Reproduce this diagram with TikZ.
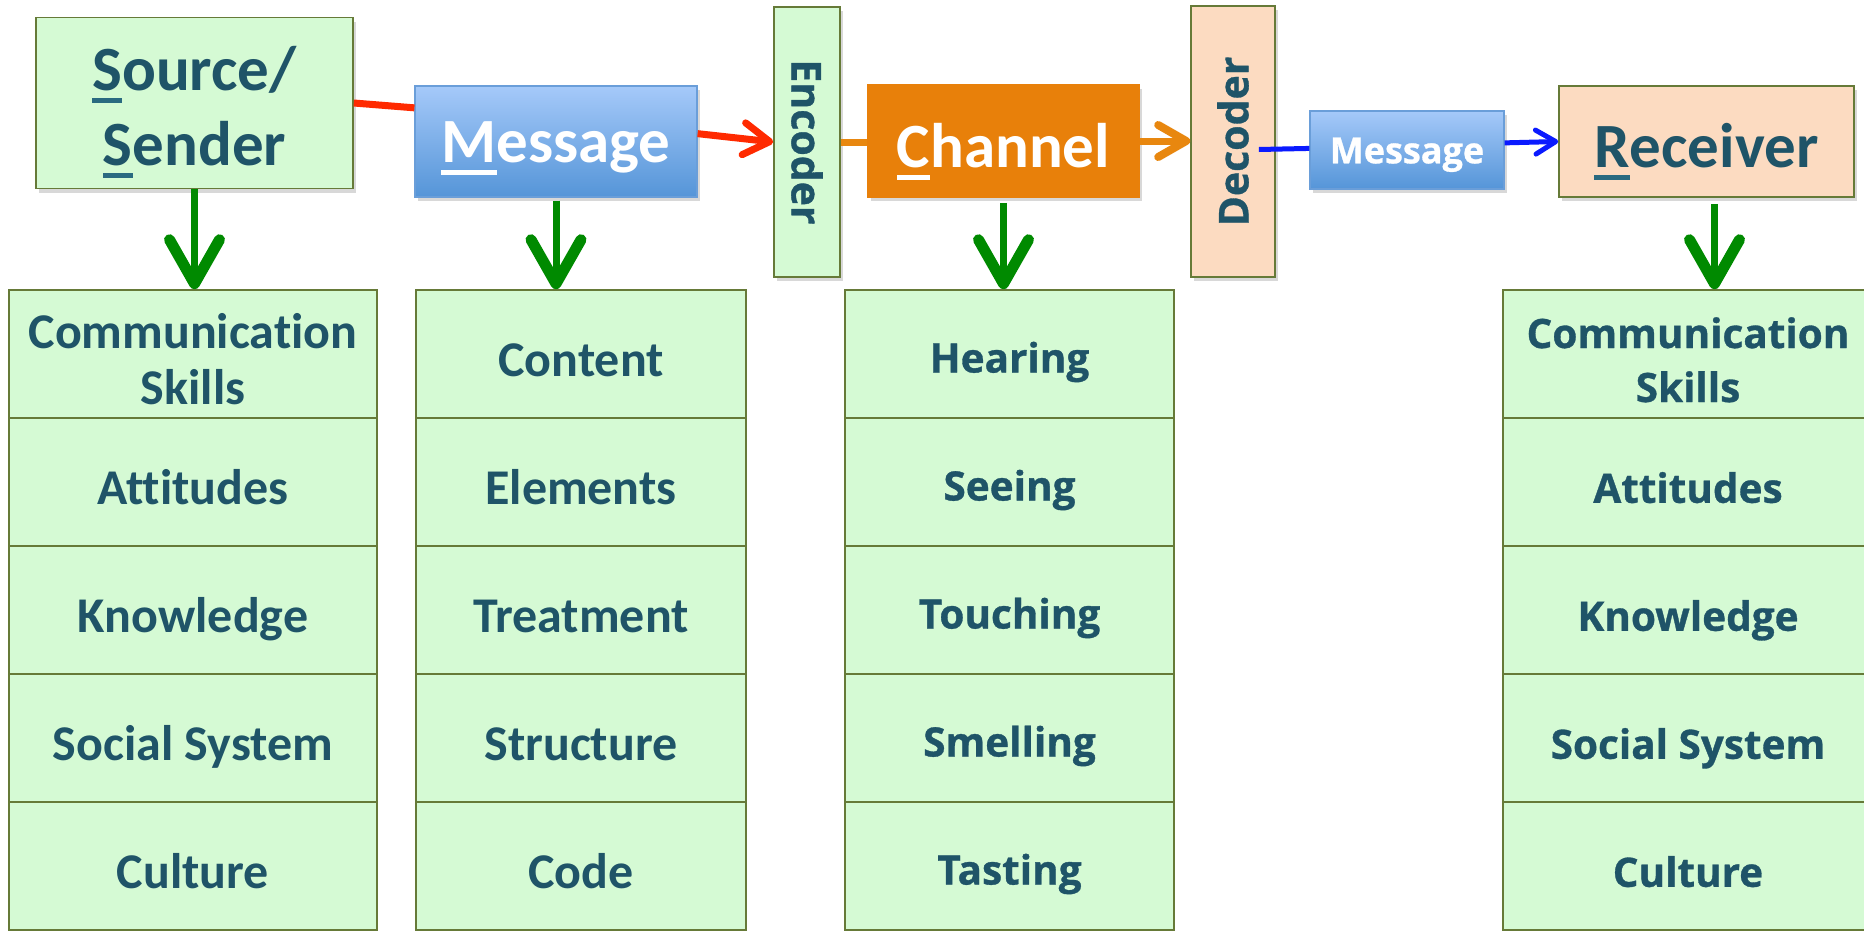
\documentclass[tikz,border=0pt]{standalone}
\usepackage{fontspec}
\usetikzlibrary{arrows.meta,calc,shadows}
\newfontfamily\calfont{Carlito}[Ligatures={NoCommon}]
\newfontfamily\osfont{Open Sans}[BoldFeatures={FakeBold=0.8}]
\definecolor{gfill}{HTML}{D5FAD4}
\definecolor{gdraw}{HTML}{667A38}
\definecolor{tcol}{HTML}{1F5468}
\definecolor{ucol}{HTML}{2A6A80}
\definecolor{pfill}{HTML}{FCDBC1}
\definecolor{ofill}{HTML}{E8800A}
\definecolor{btop}{HTML}{A5C9F9}
\definecolor{bbot}{HTML}{5595D8}
\definecolor{bdraw}{HTML}{6A9ED9}
\definecolor{redc}{HTML}{FF2A00}
\definecolor{orac}{HTML}{E8870F}
\definecolor{bluc}{HTML}{0A1AFF}
\definecolor{grnc}{HTML}{008A00}
\newsavebox\ulbox
\newcommand\ulet[2]{\sbox\ulbox{#2}\rlap{\color{#1}\rule[-0.2em]{\wd\ulbox}{0.08em}}\usebox\ulbox}
\tikzset{
  shad/.style={drop shadow={shadow xshift=3pt,shadow yshift=-4pt,opacity=0.25,fill=black!60}},
  bigbox/.style={line width=1.6pt, align=center, inner sep=0pt, shad},
  gbox/.style={bigbox, draw=gdraw, fill=gfill, text=tcol},
  pbox/.style={bigbox, draw=gdraw, fill=pfill, text=tcol},
  bbox/.style={bigbox, draw=bdraw, line width=1.2pt, top color=btop, bottom color=bbot, text=white},
  obox/.style={bigbox, draw=ofill, fill=ofill, text=white},
  bigfont/.style={font=\calfont\bfseries\fontsize{63}{75}\selectfont},
  rowbox/.style={draw=gdraw, line width=1.6pt, fill=gfill, text=tcol, align=center, inner sep=0pt},
  calrow/.style={font=\calfont\bfseries\fontsize{50}{56}\selectfont, text height=55pt, text depth=10.5pt},
  osrowc/.style={font=\osfont\bfseries\fontsize{40.5}{54}\selectfont, text height=48pt, text depth=11pt},
  osrowd/.style={font=\osfont\bfseries\fontsize{40.5}{54}\selectfont, text height=52pt, text depth=10.4pt},
  garrow/.style={draw=grnc, line width=7pt, -{Straight Barb[length=44pt,width=50pt,line width=11pt,round]}},
  rline/.style={draw=redc, line width=7pt},
  rarrow/.style={rline, -{Straight Barb[length=26pt,width=32pt,line width=7pt,round]}},
  oline/.style={draw=orac, line width=7pt},
  oarrow/.style={oline, -{Straight Barb[length=28pt,width=32pt,line width=8pt,round]}},
  bline/.style={draw=bluc, line width=5pt},
  barrow/.style={bline, -{Straight Barb[length=20pt,width=24pt,line width=5pt,round]}}
}
\begin{document}
\begin{tikzpicture}[x=1pt,y=-1pt]
\useasboundingbox (0,0) rectangle (1864,930);
\fill[white] (0,0) rectangle (1864,930);
% columns
\node[rowbox, calrow, text height=100pt, text depth=0pt, minimum width=368pt, minimum height=128pt] (a1) at (193,354) {Communication\\Skills};
\foreach \t [count=\i from 2] in {Attitudes,Knowledge,{Social System},Culture}
  \node[rowbox, calrow, minimum width=368pt, minimum height=128pt] (a\i) at (193,{290+128*(\i-1)+64}) {\t};
\foreach \t [count=\i] in {Content,Elements,Treatment,Structure,Code}
  \node[rowbox, calrow, minimum width=330pt, minimum height=128pt] (b\i) at (581,{290+128*(\i-1)+64}) {\t};
\foreach \t [count=\i] in {Hearing,Seeing,Touching,Smelling,Tasting}
  \node[rowbox, osrowc, minimum width=329pt, minimum height=128pt] (c\i) at (1009.5,{290+128*(\i-1)+64}) {\t};
\node[rowbox, osrowd, text height=96pt, text depth=0pt, minimum width=370pt, minimum height=128pt] (d1) at (1688,354) {Communication\\Skills};
\foreach \t [count=\i from 2] in {Attitudes,Knowledge,{Social System},Culture}
  \node[rowbox, osrowd, minimum width=370pt, minimum height=128pt] (d\i) at (1688,{290+128*(\i-1)+64}) {\t};
% top boxes
\node[gbox, bigfont, text height=124pt, text depth=0pt, minimum width=317pt, minimum height=171pt] (src) at (194.5,103) {\ulet{ucol}{S}ource/\\\ulet{ucol}{S}ender};
\node[bbox, bigfont, text height=57pt, text depth=15pt, minimum width=282pt, minimum height=111pt] (msg) at (556,141.5) {\ulet{white}{M}essage};
\node[gbox, font=\osfont\bfseries\fontsize{41}{48}\selectfont, rotate=-90, minimum width=270pt, minimum height=66pt] (enc) at (807,142) {Encoder};
\node[obox, bigfont, text height=62pt, text depth=10pt, minimum width=271pt, minimum height=112pt] (ch) at (1003.5,141) {\ulet{white}{C}hannel};
\node[pbox, font=\osfont\bfseries\fontsize{41}{48}\selectfont, rotate=90, minimum width=271pt, minimum height=84pt] (dec) at (1233,141.5) {Decoder};
\node[bbox, font=\osfont\bfseries\fontsize{36}{42}\selectfont, text height=36pt, text depth=9.4pt, minimum width=194pt, minimum height=78pt] (sm) at (1407,150) {Message};
\node[pbox, bigfont, text height=61pt, text depth=10pt, minimum width=295pt, minimum height=111pt] (rec) at (1706.5,141.5) {\ulet{ucol}{R}eceiver};
% connectors
\draw[rline] (src.east) -- ($(msg.north west)!0.2!(msg.south west)$);
\draw[rarrow] ($(msg.north east)!0.43!(msg.south east)$) -- (enc.south);
\draw[oline] (enc.north) -- (enc.north -| ch.west);
\draw[oarrow] (ch.east) -- (ch.east -| dec.north);
\draw[bline] ([xshift=-17pt,yshift=-8pt]dec.south) -- ($(sm.north west)!0.48!(sm.south west)$);
\draw[barrow] ($(sm.north east)!0.41!(sm.south east)$) -- (rec.west);
\draw[garrow] (src.south) -- (src.south |- a1.north);
\draw[garrow, shorten <=3pt] (msg.south) -- (msg.south |- b1.north);
\draw[garrow, shorten <=5pt] (ch.south) -- (ch.south |- c1.north);
\draw[garrow, shorten <=6pt] ([xshift=8pt]rec.south) -- ([xshift=8pt]rec.south |- d1.north);
\end{tikzpicture}
\end{document}
